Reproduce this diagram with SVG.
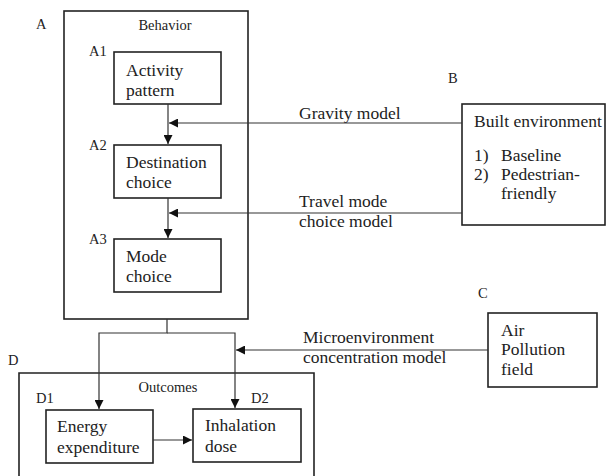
<svg xmlns="http://www.w3.org/2000/svg" width="615" height="476" viewBox="0 0 615 476">
<style>
.box{fill:none;stroke:#222;stroke-width:1.6}
.t{font-family:"Liberation Serif","Times New Roman",serif;font-size:17.5px;fill:#222}
.s{font-family:"Liberation Serif","Times New Roman",serif;font-size:14.5px;fill:#222}
.c{fill:none;stroke:#333;stroke-width:1.2}
</style>
<defs>
<marker id="ah" viewBox="0 0 10 10" refX="10" refY="5" markerWidth="9" markerHeight="9" markerUnits="userSpaceOnUse" orient="auto">
<path d="M0,0 L10,5 L0,10 z" fill="#111"/>
</marker>
</defs>
<rect width="615" height="476" fill="#fff"/>

<g id="behavior">
<rect class="box" x="64" y="11" width="184" height="308"/>
<text class="s" x="36" y="29">A</text>
<text class="s" x="165" y="30" text-anchor="middle">Behavior</text>
</g>
<g id="A1">
<rect class="box" x="114" y="52" width="107" height="52"/>
<text class="s" x="89" y="56">A1</text>
<text class="t" x="126" y="76">Activity</text>
<text class="t" x="126" y="96">pattern</text>
</g>
<g id="A2">
<rect class="box" x="114" y="145" width="107" height="53"/>
<text class="s" x="89" y="150">A2</text>
<text class="t" x="126" y="168">Destination</text>
<text class="t" x="126" y="188">choice</text>
</g>
<g id="A3">
<rect class="box" x="114" y="239" width="107" height="53"/>
<text class="s" x="89" y="244">A3</text>
<text class="t" x="126" y="262">Mode</text>
<text class="t" x="126" y="282">choice</text>
</g>
<g id="B">
<rect class="box" x="462" y="104" width="143" height="121"/>
<text class="s" x="448" y="83">B</text>
<text class="t" x="474" y="127">Built environment</text>
<text class="t" x="474" y="161">1)</text>
<text class="t" x="501" y="161">Baseline</text>
<text class="t" x="474" y="180">2)</text>
<text class="t" x="501" y="180">Pedestrian-</text>
<text class="t" x="501" y="199">friendly</text>
</g>
<g id="C">
<rect class="box" x="488" y="313" width="109" height="74"/>
<text class="s" x="478" y="298">C</text>
<text class="t" x="501" y="336">Air</text>
<text class="t" x="501" y="355">Pollution</text>
<text class="t" x="501" y="375">field</text>
</g>
<g id="outcomes">
<path class="box" d="M19,476 V373 H314 V476"/>
<text class="s" x="8" y="365">D</text>
<text class="s" x="168" y="392" text-anchor="middle">Outcomes</text>
</g>
<g id="D1">
<rect class="box" x="46" y="410" width="107" height="53"/>
<text class="s" x="36" y="403">D1</text>
<text class="t" x="57" y="432">Energy</text>
<text class="t" x="57" y="453">expenditure</text>
</g>
<g id="D2">
<rect class="box" x="193" y="409" width="108" height="53"/>
<text class="s" x="251" y="403">D2</text>
<text class="t" x="205" y="431">Inhalation</text>
<text class="t" x="205" y="452">dose</text>
</g>

<g id="connectors">
<line class="c" x1="168" y1="104" x2="168" y2="144" marker-end="url(#ah)"/>
<line class="c" x1="168" y1="198" x2="168" y2="238" marker-end="url(#ah)"/>
<line class="c" x1="462" y1="123" x2="169" y2="123" marker-end="url(#ah)"/>
<line class="c" x1="462" y1="213" x2="169" y2="213" marker-end="url(#ah)"/>
<polyline class="c" points="167,319 167,333 99,333 99,409" marker-end="url(#ah)"/>
<polyline class="c" points="167,333 235,333 235,408" marker-end="url(#ah)"/>
<line class="c" x1="488" y1="350" x2="236" y2="350" marker-end="url(#ah)"/>
<line class="c" x1="153" y1="440" x2="192" y2="440" marker-end="url(#ah)"/>
<text class="t" x="299" y="119">Gravity model</text>
<text class="t" x="299" y="207">Travel mode</text>
<text class="t" x="299" y="227">choice model</text>
<text class="t" x="303" y="343">Microenvironment</text>
<text class="t" x="303" y="363">concentration model</text>
</g>
</svg>
